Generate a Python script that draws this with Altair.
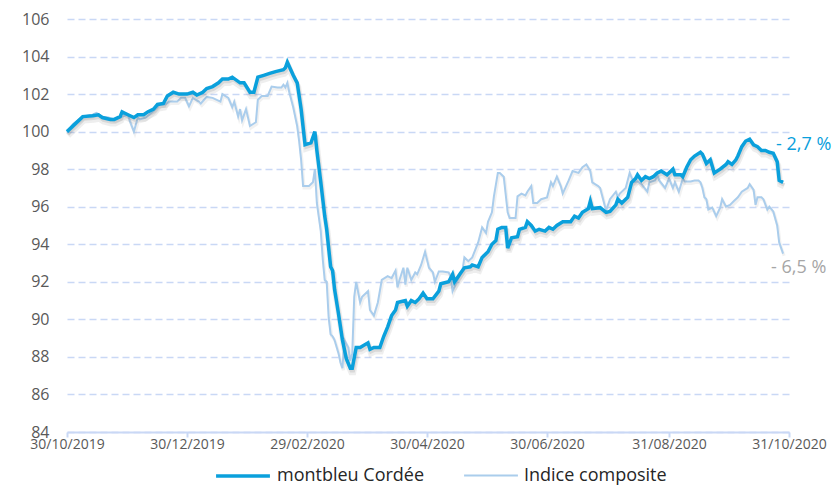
import altair as alt
import pandas as pd

START = "2019-10-30"
SERIES = ["montbleu Cordée", "Indice composite"]
COLORS = ["#0AA0DC", "#AACDEC"]

# days since 30/10/2019 and index values (base 100)
main_days = [0, 4, 8, 13, 16, 18, 22, 24, 27, 28, 31, 34, 36, 39, 41, 44, 46, 49, 51, 54, 57, 61, 64, 66, 69, 71, 74, 77, 79, 82,
             84, 88, 90, 93, 95, 97, 100, 103, 106, 110, 111, 112, 115, 117, 119, 121, 124, 126, 127, 129, 131, 132, 134, 135, 136, 138, 139, 140, 142, 144,
             145, 147, 149, 153, 154, 156, 159, 161, 163, 165, 167, 168, 170, 172, 173, 175, 177, 179, 181, 183, 186, 189, 190, 194, 196, 197, 200, 202, 205, 206,
             209, 211, 214, 216, 218, 219, 221, 223, 224, 226, 229, 230, 233, 234, 236, 238, 240, 243, 245, 247, 249, 252, 256, 258, 260, 262, 265, 266, 267, 271,
             274, 276, 279, 280, 282, 285, 287, 289, 290, 292, 294, 296, 298, 300, 302, 305, 308, 309, 312, 313, 315, 317, 319, 322, 323, 325, 327, 329, 332, 335,
             336, 338, 340, 341, 343, 345, 347, 349, 351, 353, 355, 357, 359, 361, 362, 364]
main_vals = [100.0, 100.4, 100.8, 100.85, 100.9, 100.75, 100.65, 100.65, 100.8, 101.05, 100.9, 100.75, 100.9, 100.9, 101.05, 101.2, 101.45, 101.5, 101.9, 102.1, 102.0, 102.0, 102.1, 101.95, 102.1, 102.3, 102.4, 102.6, 102.8, 102.8,
             102.9, 102.6, 102.6, 102.1, 102.1, 102.9, 103.0, 103.1, 103.2, 103.3, 103.4, 103.7, 103.0, 102.6, 101.2, 99.3, 99.4, 100.0, 99.0, 97.3, 95.5, 94.8, 92.8, 92.6, 91.6, 90.3, 89.6, 88.9, 87.9, 87.4,
             87.4, 88.5, 88.5, 88.75, 88.4, 88.5, 88.5, 89.1, 89.6, 90.2, 90.5, 90.9, 90.95, 91.0, 90.7, 91.0, 90.9, 91.1, 91.4, 91.1, 91.1, 91.5, 91.9, 92.0, 92.4, 92.0, 92.45, 92.75, 92.8, 92.9,
             92.8, 93.3, 93.6, 94.0, 94.2, 94.8, 94.9, 94.9, 93.8, 94.35, 94.4, 94.8, 94.9, 95.2, 95.0, 94.7, 94.8, 94.7, 94.9, 94.8, 95.0, 95.2, 95.2, 95.5, 95.4, 95.7, 95.9, 96.3, 95.9, 95.95,
             95.7, 95.75, 96.1, 96.4, 96.2, 96.5, 97.3, 97.5, 97.7, 97.4, 97.6, 97.5, 97.6, 97.8, 97.9, 97.7, 98.0, 97.7, 97.7, 97.6, 98.1, 98.5, 98.7, 98.9, 98.8, 98.3, 98.5, 97.8, 98.0, 98.25,
             98.4, 98.25, 98.5, 98.7, 99.2, 99.5, 99.6, 99.3, 99.2, 99.0, 99.0, 98.9, 98.85, 98.4, 97.4, 97.3]

comp_days = [0, 3, 8, 13, 15, 18, 21, 24, 28, 31, 32, 34, 36, 37, 40, 43, 46, 47, 50, 52, 56, 58, 60, 62, 64, 67, 68, 71, 74, 78,
             79, 82, 84, 85, 87, 88, 89, 91, 93, 96, 97, 99, 102, 104, 107, 109, 110, 111, 112, 113, 115, 117, 118, 119, 120, 123, 125, 126, 127, 129,
             130, 131, 132, 133, 134, 135, 136, 138, 139, 140, 141, 143, 144, 145, 146, 147, 149, 150, 153, 154, 156, 158, 159, 160, 163, 165, 167, 168, 169, 171,
             172, 173, 175, 177, 178, 180, 182, 184, 186, 187, 189, 191, 194, 195, 196, 198, 201, 202, 204, 206, 209, 211, 213, 214, 216, 217, 219, 220, 222, 224,
             225, 228, 229, 231, 233, 234, 236, 237, 239, 241, 244, 246, 247, 249, 251, 252, 255, 257, 260, 262, 264, 266, 267, 270, 271, 272, 274, 276, 279, 280,
             281, 284, 286, 288, 290, 292, 295, 296, 299, 300, 301, 304, 306, 308, 309, 311, 313, 314, 317, 319, 321, 322, 323, 324, 325, 326, 328, 330, 332, 333,
             335, 337, 339, 341, 343, 346, 347, 349, 350, 351, 353, 354, 356, 357, 359, 361, 362, 364]
comp_vals = [99.95, 100.4, 100.8, 100.9, 101.0, 100.8, 100.75, 100.65, 100.8, 100.9, 100.55, 100.0, 100.75, 100.65, 100.75, 101.0, 101.3, 101.45, 101.45, 101.6, 101.6, 101.8, 101.8, 101.35, 101.8, 101.6, 101.5, 101.85, 101.8, 101.6,
             102.0, 101.8, 101.3, 101.6, 100.8, 101.2, 100.6, 101.2, 100.3, 100.5, 101.7, 101.9, 101.9, 102.4, 102.35, 102.35, 102.5, 102.35, 102.6, 102.1, 101.3, 100.3, 99.5, 98.5, 97.1, 97.1, 97.3, 98.0, 96.2, 94.7,
             93.2, 92.1, 92.0, 90.1, 89.2, 89.1, 88.9, 88.2, 87.7, 87.4, 88.9, 88.5, 87.8, 88.2, 91.2, 92.0, 90.9, 91.2, 91.5, 90.5, 90.2, 90.9, 91.5, 92.1, 92.3, 92.2, 92.6, 91.7, 92.1, 92.75,
             91.85, 92.75, 92.1, 92.5, 92.4, 92.9, 93.6, 92.75, 92.5, 92.0, 92.55, 92.55, 92.5, 92.3, 91.5, 92.0, 92.6, 93.3, 93.1, 93.3, 94.1, 94.9, 94.6, 95.2, 95.7, 96.55, 97.8, 97.8, 97.6, 95.7,
             95.4, 95.4, 96.55, 96.7, 96.6, 96.8, 97.1, 96.2, 96.2, 96.4, 96.5, 97.3, 97.1, 97.6, 97.1, 96.7, 97.4, 97.9, 97.8, 98.1, 98.25, 97.9, 97.3, 97.1, 97.0, 96.6, 95.8, 96.4, 96.8, 96.5,
             96.7, 97.0, 97.8, 97.3, 97.35, 97.2, 96.8, 97.3, 97.4, 97.7, 97.4, 97.0, 97.5, 97.0, 97.3, 96.8, 97.5, 97.35, 97.35, 97.4, 97.4, 97.3, 97.0, 96.5, 96.4, 95.85, 95.95, 95.5, 95.95, 96.4,
             96.0, 96.1, 96.3, 96.5, 96.8, 97.0, 97.2, 96.9, 96.1, 96.5, 96.5, 96.4, 95.85, 96.0, 95.75, 95.0, 94.1, 93.5]

end_labels = ["- 2,7 %", "- 6,5 %"]
end_label_values = [99.3, 92.75]
y_ticks = list(range(84, 107, 2))
x_tick_dates = [(2019, 10, 30), (2019, 12, 30), (2020, 2, 29), (2020, 4, 30), (2020, 6, 30), (2020, 8, 31), (2020, 10, 31)]

start = pd.Timestamp(START)


def frame(days, vals, name):
    return pd.DataFrame({
        "date": [(start + pd.Timedelta(days=d)).strftime("%Y-%m-%d") for d in days],
        "value": vals,
        "series": name,
    })


df = pd.concat([frame(main_days, main_vals, SERIES[0]), frame(comp_days, comp_vals, SERIES[1])], ignore_index=True)
last_date = df["date"].max()
df_lab = pd.DataFrame({"date": [last_date, last_date], "value": end_label_values, "label": end_labels})

FONT = "Open Sans"
GRID = "#C9D8F5"

x_enc = alt.X(
    "date:T",
    scale=alt.Scale(type="utc", domain=[alt.DateTime(year=2019, month=10, date=30, utc=True),
                                        alt.DateTime(year=2020, month=10, date=31, utc=True)], nice=False),
    axis=alt.Axis(
        title=None,
        values=[alt.DateTime(year=y, month=m, date=d, utc=True) for (y, m, d) in x_tick_dates],
        labelExpr="utcFormat(datum.value, '%d/%m/%Y')",
        grid=False,
        domainColor=GRID, domainWidth=2,
        tickColor=GRID, tickWidth=2, tickSize=5,
        labelPadding=0, labelFont=FONT, labelFontSize=14, labelColor="#595959",
        labelFlush=False, labelOverlap=False,
    ),
)
y_enc = alt.Y(
    "value:Q",
    scale=alt.Scale(domain=[84, 106], nice=False, zero=False),
    axis=alt.Axis(
        title=None, values=y_ticks, domain=False, ticks=False,
        grid=True, gridColor=GRID, gridDash=[7, 4], gridWidth=1.5,
        labelPadding=18, labelFont=FONT, labelFontSize=16, labelColor="#595959",
        labelOverlap=False, labelFlush=False,
    ),
)

color_enc = alt.Color("series:N", scale=alt.Scale(domain=SERIES, range=COLORS),
                      legend=alt.Legend(title=None, orient="none", legendX=147, legendY=428,
                                        direction="horizontal", symbolType="stroke", symbolSize=2900,
                                        symbolStrokeWidth=3,
                                        labelFont=FONT, labelFontSize=18, labelColor="#262626",
                                        labelOffset=5, columnPadding=35))
sw_enc = alt.StrokeWidth("series:N", scale=alt.Scale(domain=SERIES, range=[3.5, 2.0]), legend=None)

base = alt.Chart(df).encode(x=x_enc, y=y_enc)

comp_shadow = base.transform_filter(alt.datum.series == SERIES[1]).mark_line(
    color="#888888", opacity=0.12, strokeWidth=3, yOffset=2, xOffset=1)
main_shadow1 = base.transform_filter(alt.datum.series == SERIES[0]).mark_line(
    color="#777777", opacity=0.12, strokeWidth=6, yOffset=4, xOffset=1)
main_shadow2 = base.transform_filter(alt.datum.series == SERIES[0]).mark_line(
    color="#777777", opacity=0.18, strokeWidth=3.5, yOffset=2.5, xOffset=1)
comp_line = base.transform_filter(alt.datum.series == SERIES[1]).mark_line().encode(color=color_enc, strokeWidth=sw_enc)
main_line = base.transform_filter(alt.datum.series == SERIES[0]).mark_line().encode(color=color_enc, strokeWidth=sw_enc)

lab_base = alt.Chart(df_lab).encode(x=x_enc, y=y_enc, text="label:N")
lab_main = lab_base.transform_filter(alt.datum.label == end_labels[0]).mark_text(
    align="left", baseline="middle", dx=-7, font=FONT, fontSize=18, color="#0AA0DC")
lab_comp = lab_base.transform_filter(alt.datum.label == end_labels[1]).mark_text(
    align="left", baseline="middle", dx=-12, font=FONT, fontSize=18, color="#A6A6A6")

chart = alt.layer(comp_shadow, comp_line, main_shadow1, main_shadow2, main_line, lab_main, lab_comp).properties(
    width=722, height=413,
    background="white",
    padding={"left": 59, "top": 11, "right": 43, "bottom": 54},
    autosize=alt.AutoSizeParams(type="none"),
).configure_view(strokeWidth=0, stroke="transparent")

chart.save("out.html", embed_options={"renderer": "svg", "actions": False})
